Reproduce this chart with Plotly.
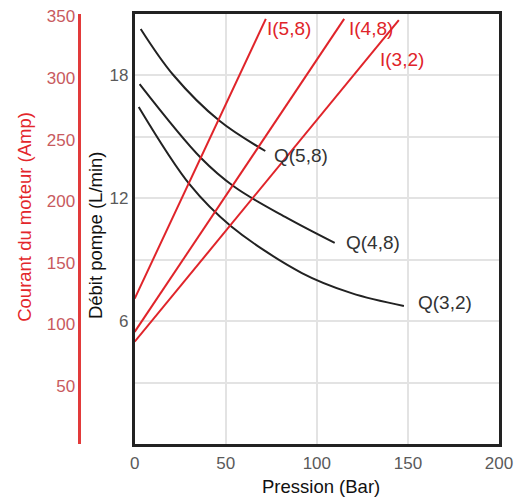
import plotly.graph_objects as go

# Débit pompe (L/min) en fonction de la pression (Bar)
pression_q58 = [3.3, 21.2, 46.7, 71.7]
debit_q58 = [20.27, 18.02, 15.77, 14.31]

pression_q48 = [2.7, 36.4, 54.9, 82.6, 109.8]
debit_q48 = [17.58, 13.97, 12.55, 11.09, 9.82]

pression_q32 = [2.2, 30.4, 52.7, 91.8, 119.0, 147.8]
debit_q32 = [16.46, 12.65, 10.65, 8.35, 7.37, 6.74]

# Courant du moteur (Amp) en fonction de la pression (Bar)
pression_i58 = [0, 36, 72]
courant_i58 = [121, 234, 348]

pression_i48 = [0, 60, 115]
courant_i48 = [94, 226, 348]

pression_i32 = [0, 72, 145]
courant_i32 = [86, 216, 347]

x_ticks = [0, 50, 100, 150, 200]
debit_ticks = [3, 6, 9, 12, 15, 18]
debit_labels = ["", "6", "", "12", "", "18"]
courant_ticks = [50, 100, 150, 200, 250, 300, 350]

BLACK = "#222222"
RED = "#e0242a"
GRID = "#e3e3e3"
W, H = 518, 499
L, R, T, B = 0, 19, 14, 55
plot_w = W - L - R
plot_h = H - T - B
x0_px = 131  # left edge of the frame
red_axis_px = 75


def px_x(px):
    return (px - L) / plot_w


def px_y(py):
    return (H - B - py) / plot_h


fig = go.Figure()

for xs, ys in [(pression_q58, debit_q58), (pression_q48, debit_q48), (pression_q32, debit_q32)]:
    fig.add_trace(go.Scatter(
        x=xs, y=ys, mode="lines", yaxis="y",
        line=dict(color=BLACK, width=2, shape="spline", smoothing=1.0),
        hoverinfo="skip"))

for xs, ys in [(pression_i58, courant_i58), (pression_i48, courant_i48), (pression_i32, courant_i32)]:
    fig.add_trace(go.Scatter(
        x=xs, y=ys, mode="lines", yaxis="y2",
        line=dict(color=RED, width=2),
        hoverinfo="skip"))

lab_font = dict(family="Liberation Sans, Arial, sans-serif", size=19)
annotations = [
    dict(text="Q(5,8)", x=75.5, y=14.1, xref="x", yref="y", font=dict(color="#333333", **lab_font)),
    dict(text="Q(4,8)", x=114.7, y=9.82, xref="x", yref="y", font=dict(color="#333333", **lab_font)),
    dict(text="Q(3,2)", x=154.3, y=6.89, xref="x", yref="y", font=dict(color="#333333", **lab_font)),
    dict(text="I(5,8)", x=71.5, y=340, xref="x", yref="y2", font=dict(color=RED, **lab_font)),
    dict(text="I(4,8)", x=116.5, y=340, xref="x", yref="y2", font=dict(color=RED, **lab_font)),
    dict(text="I(3,2)", x=133.5, y=315, xref="x", yref="y2", font=dict(color=RED, **lab_font)),
]
for a in annotations:
    a.update(showarrow=False, xanchor="left", yanchor="middle")

title_font = dict(family="Liberation Sans, Arial, sans-serif", size=18.5)
annotations += [
    dict(text="Pression (Bar)", x=px_x(319.5), y=px_y(486), xref="paper", yref="paper",
         showarrow=False, xanchor="center", yanchor="middle", font=dict(color="#111111", **title_font)),
    dict(text="Débit pompe (L/min)", x=px_x(91), y=px_y(235), xref="paper", yref="paper",
         textangle=-90, showarrow=False, xanchor="center", yanchor="middle",
         font=dict(color="#111111", **title_font)),
    dict(text="Courant du moteur (Amp)", x=px_x(19), y=px_y(217), xref="paper", yref="paper",
         textangle=-90, showarrow=False, xanchor="center", yanchor="middle",
         font=dict(color="#e3262b", **title_font)),
]

tick_font = dict(family="Liberation Sans, Arial, sans-serif", size=17, color="#5a5a5a")

fig.update_layout(
    width=W, height=H,
    margin=dict(l=L, r=R, t=T, b=B),
    paper_bgcolor="white", plot_bgcolor="white",
    showlegend=False,
    xaxis=dict(
        domain=[px_x(x0_px), 1], range=[0, 200], tickvals=x_ticks,
        showgrid=True, gridcolor=GRID, gridwidth=1.5, zeroline=False,
        showline=True, linecolor=BLACK, linewidth=2.5, mirror=True,
        ticks="", tickfont=tick_font, ticklabelstandoff=2,
    ),
    yaxis=dict(
        range=[0, 21], tickvals=debit_ticks, ticktext=debit_labels,
        showgrid=True, gridcolor=GRID, gridwidth=1.5, zeroline=False,
        showline=True, linecolor=BLACK, linewidth=2.5, mirror=True,
        ticks="", tickfont=tick_font, anchor="x",
    ),
    yaxis2=dict(
        overlaying="y", anchor="free", position=px_x(red_axis_px), side="left",
        range=[3, 352], tickvals=courant_ticks,
        showgrid=False, zeroline=False,
        showline=True, linecolor="#e23a3a", linewidth=2.5,
        ticks="", tickfont=dict(family="Liberation Sans, Arial, sans-serif", size=17, color="#c85a5e"),
    ),
    annotations=annotations,
)

fig.write_html("out.html")
